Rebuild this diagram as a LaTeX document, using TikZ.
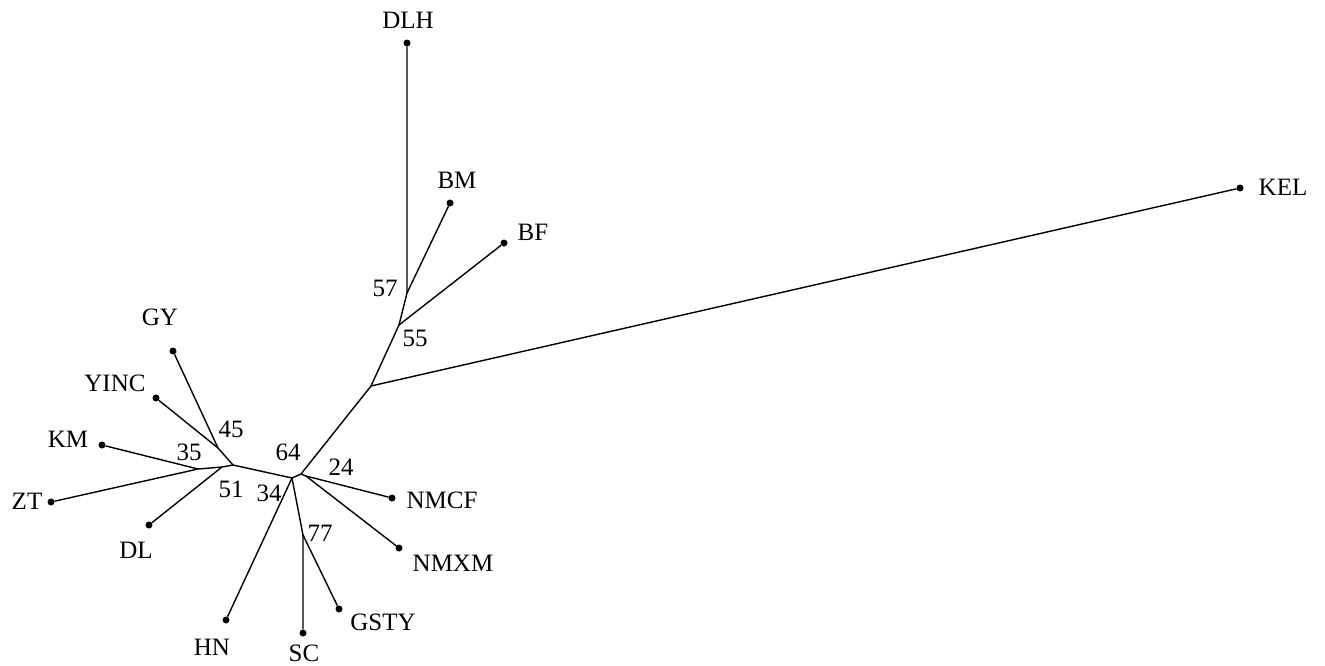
\documentclass[tikz,border=0pt]{standalone}
\usepackage{fontspec}
\setmainfont{Liberation Serif}
\begin{document}
\begin{tikzpicture}[x=1pt,y=-1pt,
  leaf/.style={circle,fill=black,inner sep=0pt,minimum size=7pt},
  lbl/.style={font=\fontsize{25}{25}\selectfont,inner sep=0pt},
  br/.style={line width=1.4pt}]
\useasboundingbox (0,0) rectangle (1325,665);
% internal junctions
\coordinate (kzt) at (198,469);
\coordinate (jdl) at (222,467);
\coordinate (jw) at (233,465);
\coordinate (jgy) at (218,448);
\coordinate (jc) at (292,478);
\coordinate (jd) at (301,474);
\coordinate (je) at (306,476);
\coordinate (j77) at (303,535);
\coordinate (jk) at (371,386);
\coordinate (j55) at (399,325);
\coordinate (j57) at (407,293);
% leaves
\node[leaf] (DLH) at (407,43) {};
\node[leaf] (BM) at (450,203) {};
\node[leaf] (BF) at (504,243) {};
\node[leaf] (KEL) at (1240,188) {};
\node[leaf] (GY) at (173,351) {};
\node[leaf] (YINC) at (156,398) {};
\node[leaf] (KM) at (102,445) {};
\node[leaf] (ZT) at (51,502) {};
\node[leaf] (DL) at (149,525) {};
\node[leaf] (HN) at (226,620) {};
\node[leaf] (SC) at (303,633) {};
\node[leaf] (GSTY) at (339,609) {};
\node[leaf] (NMCF) at (392,498) {};
\node[leaf] (NMXM) at (399,548) {};
% branches
\draw[br] (ZT) -- (kzt);
\draw[br] (KM) -- (kzt);
\draw[br] (kzt) -- (jdl) -- (jw);
\draw[br] (DL) -- (jdl);
\draw[br] (GY) -- (jgy) -- (jw);
\draw[br] (YINC) -- (jgy);
\draw[br] (jw) -- (jc) -- (jd);
\draw[br] (jc) -- (HN);
\draw[br] (jc) -- (j77) -- (SC);
\draw[br] (j77) -- (GSTY);
\draw[br] (jd) -- (je) -- (NMCF);
\draw[br] (je) -- (NMXM);
\draw[br] (jd) -- (jk) -- (KEL);
\draw[br] (jk) -- (j55) -- (j57) -- (DLH);
\draw[br] (j57) -- (BM);
\draw[br] (j55) -- (BF);
% leaf labels
\node[lbl] (tDLH) at (408,20) {DLH};
\node[lbl] (tBM) at (457,180) {BM};
\node[lbl] (tBF) at (533,232) {BF};
\node[lbl] (tKEL) at (1283,187) {KEL};
\node[lbl] (tGY) at (160,317) {GY};
\node[lbl] (tYINC) at (115,383) {YINC};
\node[lbl] (tKM) at (68,439) {KM};
\node[lbl] (tZT) at (27,501) {ZT};
\node[lbl] (tDL) at (136,550) {DL};
\node[lbl] (tHN) at (212,647) {HN};
\node[lbl] (tSC) at (304,653) {SC};
\node[lbl] (tGSTY) at (383,622) {GSTY};
\node[lbl] (tNMCF) at (442,500) {NMCF};
\node[lbl] (tNMXM) at (453,563) {NMXM};
% bootstrap values
\node[lbl] (b57) at (385,288) {57};
\node[lbl] (b55) at (415,338) {55};
\node[lbl] (b45) at (231,429) {45};
\node[lbl] (b35) at (189,452) {35};
\node[lbl] (b64) at (288,452) {64};
\node[lbl] (b24) at (341,467) {24};
\node[lbl] (b51) at (231,489) {51};
\node[lbl] (b34) at (269,493) {34};
\node[lbl] (b77) at (320,533) {77};
\end{tikzpicture}
\end{document}
